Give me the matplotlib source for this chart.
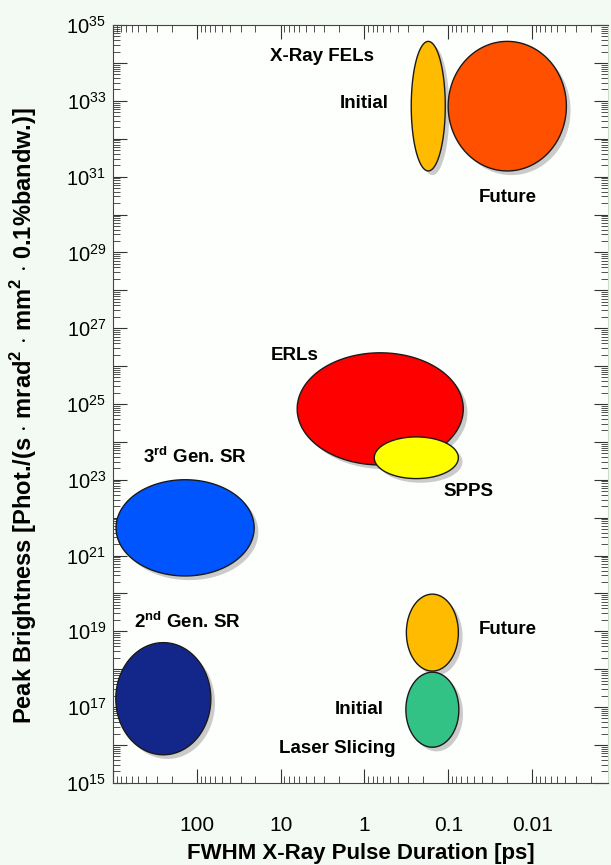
import numpy as np
import matplotlib
matplotlib.use("Agg")
import matplotlib.pyplot as plt
import matplotlib.patheffects as pe
from matplotlib.ticker import FixedLocator, FuncFormatter, LogLocator, NullFormatter

plt.rcParams['font.family'] = ['Liberation Sans', 'DejaVu Sans']
plt.rcParams['mathtext.fontset'] = 'custom'
plt.rcParams['mathtext.rm'] = 'Liberation Sans'
plt.rcParams['mathtext.bf'] = 'Liberation Sans:bold'

# Source regions: log10 of pulse duration [ps] and log10 of peak brightness
sources = ["FEL initial", "FEL future", "ERLs", "SPPS", "3rd Gen. SR",
           "2nd Gen. SR", "Slicing future", "Slicing initial"]
dur_lo = [-0.964, -2.409, -1.179, -1.120, 1.316, 1.833, -1.120, -1.126]
dur_hi = [-0.558, -0.999, 0.803, -0.117, 2.964, 2.967, -0.500, -0.494]
bri_lo = [31.15, 31.15, 23.39, 23.03, 20.46, 15.74, 17.95, 15.94]
bri_hi = [34.57, 34.57, 26.35, 24.13, 23.00, 18.70, 19.98, 17.92]
colors = ["#ffbb00", "#ff5000", "#ff0000", "#ffff00", "#0055ff",
          "#13278a", "#ffbb00", "#33c285"]

# Labels (text, log10 duration, log10 brightness)
label_txt = ["X-Ray FELs", "Initial", "Future", "ERLs", "SPPS",
             r"3$^{\mathbf{rd}}$ Gen. SR", r"2$^{\mathbf{nd}}$ Gen. SR",
             "Future", "Initial", "Laser Slicing"]
label_x = [0.504, 0.003, -1.704, 0.827, -1.239, 2.02, 2.116, -1.704, 0.063, 0.325]
label_y = [34.16, 32.94, 30.46, 26.29, 22.68, 23.60, 19.25, 19.06, 16.93, 15.90]


def ellipse(x0, x1, y0, y1, n=300):
    t = np.linspace(0, 2 * np.pi, n)
    cx, cy = (x0 + x1) / 2, (y0 + y1) / 2
    rx, ry = (x1 - x0) / 2, (y1 - y0) / 2
    return 10 ** (cx + rx * np.cos(t)), 10 ** (cy + ry * np.sin(t))


fig = plt.figure(figsize=(6.11, 8.65), dpi=100, facecolor="#f3faf3")
ax = fig.add_axes([0.185, 0.095, 0.81, 0.876])
ax.set_facecolor("#fdfffd")
ax.set_xscale("log")
ax.set_yscale("log")
ax.set_xlim(1000, 10 ** -2.905)
ax.set_ylim(1e15, 1e35)

shadow = [pe.SimplePatchShadow(offset=(3, -3), shadow_rgbFace="#999999", alpha=0.5),
          pe.Normal()]
for i in range(len(sources)):
    xs, ys = ellipse(dur_lo[i], dur_hi[i], bri_lo[i], bri_hi[i])
    ax.fill(xs, ys, facecolor=colors[i], edgecolor="#1a1a1a", linewidth=1.0,
            path_effects=shadow, zorder=2 + i * 0.1)

for t, x, y in zip(label_txt, label_x, label_y):
    ax.text(10 ** x, 10 ** y, t, ha="center", va="center", fontsize=13.5,
            fontweight="bold", zorder=5)

# ticks
ax.xaxis.set_major_locator(LogLocator(base=10, numticks=20))
ax.xaxis.set_minor_locator(LogLocator(base=10, subs=np.arange(2, 10), numticks=20))
ax.xaxis.set_major_formatter(FuncFormatter(
    lambda v, p: {100: "100", 10: "10", 1: "1", 0.1: "0.1", 0.01: "0.01"}.get(round(v, 4), "")))
ax.xaxis.set_minor_formatter(NullFormatter())

ax.yaxis.set_major_locator(FixedLocator([10.0 ** k for k in range(15, 36)]))
ax.yaxis.set_minor_locator(LogLocator(base=10, subs=np.arange(2, 10), numticks=40))
ax.yaxis.set_major_formatter(FuncFormatter(
    lambda v, p: r"$10^{%d}$" % round(np.log10(v)) if round(np.log10(v)) % 2 == 1 else ""))
ax.yaxis.set_minor_formatter(NullFormatter())

ax.tick_params(which="both", direction="in", top=True, right=True, color="#333333")
ax.tick_params(which="major", length=10, width=0.8)
ax.tick_params(which="minor", length=5, width=0.6)
ax.tick_params(axis="x", which="major", labelsize=15, pad=24)
ax.tick_params(axis="y", which="major", labelsize=14.5, pad=5)

for s in ["left", "bottom", "top"]:
    ax.spines[s].set_color("#444444")
    ax.spines[s].set_linewidth(0.8)
ax.spines["right"].set_color("#c8dcc8")

ax.set_xlabel("FWHM X-Ray Pulse Duration [ps]", fontsize=16, fontweight="bold", labelpad=6)
ax.set_ylabel(r"Peak Brightness [Phot./(s $\cdot$ mrad$^{\mathbf{2}}$ $\cdot$ mm$^{\mathbf{2}}$ $\cdot$ 0.1%bandw.)]",
              fontsize=17, fontweight="bold")
ax.yaxis.set_label_coords(-0.15, 0.484)

plt.savefig("out.png", dpi=100, facecolor=fig.get_facecolor())
